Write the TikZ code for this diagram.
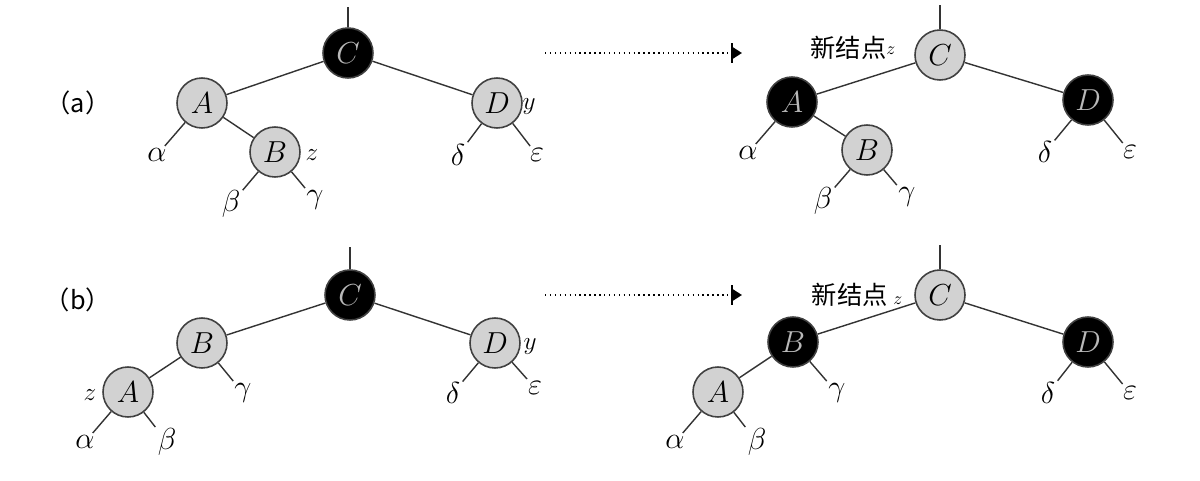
\documentclass[tikz,border=0pt]{standalone}
\usepackage{fontspec}
\newfontfamily\cjk{Noto Sans CJK SC}
\usetikzlibrary{arrows.meta}

\begin{document}
\begin{tikzpicture}[x=0.02cm, y=-0.02cm,
                    every path/.append style={line width=0.8pt},
                    branch/.style={draw=black!80},
                    rbnode/.style={circle, draw=black!75, line width=0.9pt, minimum size=1cm, inner sep=0pt, font=\LARGE},
                    rednode/.style={rbnode, fill=gray!35},
                    blacknode/.style={rbnode, fill=black, text=gray!55},
                    leaf/.style={inner sep=1pt, font=\LARGE},
                    tag/.style={inner sep=1pt, font=\Large},
                    caselabel/.style={font=\cjk\Large},
                    newlabel/.style={font=\cjk\Large, inner sep=1pt},
                    step arrow/.style={dotted, line width=1.4pt, -{Bar[width=11pt] Triangle[length=5pt, width=6pt]}}]
    \useasboundingbox (0,0) rectangle (1200,480);

    % Case (a), before
    \node [caselabel] (label_a) at (78,103) {（a）};
    \coordinate (a_top) at (348,7);
    \node [blacknode] (a_C) at (348,53) {$C$};
    \node [rednode]   (a_A) at (202,103) {$A$};
    \node [rednode]   (a_B) at (275,152) {$B$};
    \node [rednode]   (a_D) at (497,103) {$D$};
    \node [leaf] (a_alpha) at (157,155) {$\alpha$};
    \node [leaf] (a_beta)  at (231,204) {$\beta$};
    \node [leaf] (a_gamma) at (315,200) {$\gamma$};
    \node [leaf] (a_delta) at (458,155) {$\delta$};
    \node [leaf] (a_eps)   at (537,155) {$\varepsilon$};
    \node [tag] (a_z) at (312,155) {$z$};
    \node [tag] (a_y) at (529,107) {$y$};

    % Case (a), after
    \coordinate (a2_top) at (940,5);
    \node [rednode]   (a2_C) at (940,55) {$C$};
    \node [blacknode] (a2_A) at (792,102) {$A$};
    \node [rednode]   (a2_B) at (867,150) {$B$};
    \node [blacknode] (a2_D) at (1088,100) {$D$};
    \node [leaf] (a2_alpha) at (748,153) {$\alpha$};
    \node [leaf] (a2_beta)  at (823,201) {$\beta$};
    \node [leaf] (a2_gamma) at (907,197) {$\gamma$};
    \node [leaf] (a2_delta) at (1045,152) {$\delta$};
    \node [leaf] (a2_eps)   at (1130,152) {$\varepsilon$};
    \node [newlabel] (a2_new) at (853,48) {新结点\raisebox{2pt}{\normalsize$z$}};

    % Case (b), before
    \node [caselabel] (label_b) at (78,300) {（b）};
    \coordinate (b_top) at (350,247);
    \node [blacknode] (b_C) at (350,295) {$C$};
    \node [rednode]   (b_B) at (202,343) {$B$};
    \node [rednode]   (b_A) at (128,392) {$A$};
    \node [rednode]   (b_D) at (495,343) {$D$};
    \node [leaf] (b_alpha) at (85,442) {$\alpha$};
    \node [leaf] (b_beta)  at (167,442) {$\beta$};
    \node [leaf] (b_gamma) at (243,393) {$\gamma$};
    \node [leaf] (b_delta) at (453,393) {$\delta$};
    \node [leaf] (b_eps)   at (535,388) {$\varepsilon$};
    \node [tag] (b_z) at (90,395) {$z$};
    \node [tag] (b_y) at (530,347) {$y$};

    % Case (b), after
    \coordinate (b2_top) at (940,245);
    \node [rednode]   (b2_C) at (940,295) {$C$};
    \node [blacknode] (b2_B) at (793,342) {$B$};
    \node [rednode]   (b2_A) at (718,392) {$A$};
    \node [blacknode] (b2_D) at (1088,342) {$D$};
    \node [leaf] (b2_alpha) at (675,442) {$\alpha$};
    \node [leaf] (b2_beta)  at (757,442) {$\beta$};
    \node [leaf] (b2_gamma) at (837,393) {$\gamma$};
    \node [leaf] (b2_delta) at (1048,393) {$\delta$};
    \node [leaf] (b2_eps)   at (1130,393) {$\varepsilon$};
    \node [newlabel] (b2_new) at (857,295) {新结点 {\normalsize$z$}};

    % Transformation arrows
    \coordinate (a_from) at (545,53);
    \coordinate (a_to)   at (742,53);
    \coordinate (b_from) at (545,295);
    \coordinate (b_to)   at (742,295);
    \draw [step arrow] (a_from) -- (a_to);
    \draw [step arrow] (b_from) -- (b_to);

    % Draw the edges
    \begin{scope}[every path/.append style={branch}]
    \draw (a_top) -- (a_C);
    \draw (a_C) -- (a_A);
    \draw (a_C) -- (a_D);
    \draw (a_A) -- (a_alpha);
    \draw (a_A) -- (a_B);
    \draw (a_B) -- (a_beta);
    \draw (a_B) -- (a_gamma);
    \draw (a_D) -- (a_delta);
    \draw (a_D) -- (a_eps);

    \draw (a2_top) -- (a2_C);
    \draw (a2_C) -- (a2_A);
    \draw (a2_C) -- (a2_D);
    \draw (a2_A) -- (a2_alpha);
    \draw (a2_A) -- (a2_B);
    \draw (a2_B) -- (a2_beta);
    \draw (a2_B) -- (a2_gamma);
    \draw (a2_D) -- (a2_delta);
    \draw (a2_D) -- (a2_eps);

    \draw (b_top) -- (b_C);
    \draw (b_C) -- (b_B);
    \draw (b_C) -- (b_D);
    \draw (b_B) -- (b_A);
    \draw (b_B) -- (b_gamma);
    \draw (b_A) -- (b_alpha);
    \draw (b_A) -- (b_beta);
    \draw (b_D) -- (b_delta);
    \draw (b_D) -- (b_eps);

    \draw (b2_top) -- (b2_C);
    \draw (b2_C) -- (b2_B);
    \draw (b2_C) -- (b2_D);
    \draw (b2_B) -- (b2_A);
    \draw (b2_B) -- (b2_gamma);
    \draw (b2_A) -- (b2_alpha);
    \draw (b2_A) -- (b2_beta);
    \draw (b2_D) -- (b2_delta);
    \draw (b2_D) -- (b2_eps);
    \end{scope}
\end{tikzpicture}
\end{document}
